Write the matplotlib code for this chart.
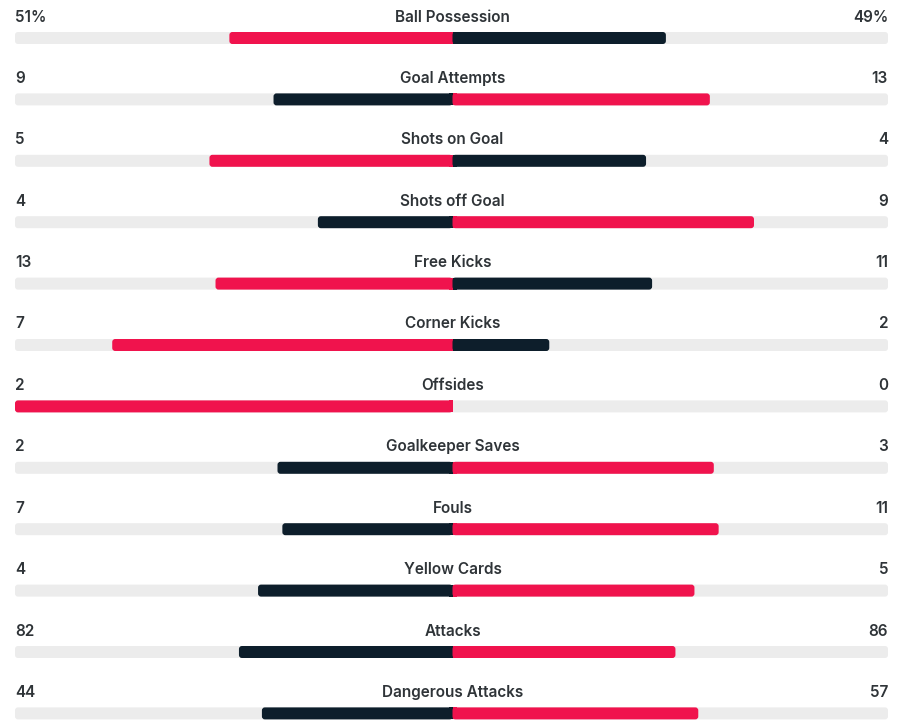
import matplotlib.pyplot as plt
from matplotlib.patches import FancyBboxPatch, Rectangle

# match stats (home left, away right)
labels = ['Ball Possession', 'Goal Attempts', 'Shots on Goal', 'Shots off Goal',
          'Free Kicks', 'Corner Kicks', 'Offsides', 'Goalkeeper Saves', 'Fouls',
          'Yellow Cards', 'Attacks', 'Dangerous Attacks']
home = [51, 9, 5, 4, 13, 7, 2, 2, 7, 4, 82, 44]
away = [49, 13, 4, 9, 11, 2, 0, 3, 11, 5, 86, 57]
suffix = ['%', '', '', '', '', '', '', '', '', '', '', '']

RED = '#f0134d'
DARK = '#0d1e2b'
TRACK = '#ececec'
TEXT = '#2f3438'

plt.rcParams['font.family'] = ['Inter', 'DejaVu Sans']

fig = plt.figure(figsize=(9, 7.27), dpi=100)
ax = fig.add_axes([0, 0, 1, 1])
ax.set_xlim(0, 900)
ax.set_ylim(727, 0)
ax.axis('off')

left, right = 15, 888
mid = 452.5
half = mid - left
bar_h = 12
r = 3


def rounded_bar(x0, x1, y, color, square_side=None):
    w = x1 - x0
    if w <= 0:
        return
    ax.add_patch(FancyBboxPatch((x0, y - bar_h / 2), w, bar_h,
                                boxstyle=f'round,pad=0,rounding_size={min(r, w / 2)}',
                                fc=color, ec='none', zorder=2))
    # square off the end that meets the centre line
    if square_side == 'right':
        ax.add_patch(Rectangle((max(x0, x1 - r - 1), y - bar_h / 2), min(r + 1, w), bar_h,
                               fc=color, ec='none', zorder=2))
    elif square_side == 'left':
        ax.add_patch(Rectangle((x0, y - bar_h / 2), min(r + 1, w), bar_h,
                               fc=color, ec='none', zorder=2))


for i, lab in enumerate(labels):
    yb = 38 + i * 61.4
    yt = yb - 21
    h, a = home[i], away[i]
    tot = h + a
    rounded_bar(left, right, yb, TRACK)
    hc = RED if h > a else DARK
    ac = RED if a > h else DARK
    rounded_bar(mid - h / tot * half, mid, yb, hc, 'right')
    rounded_bar(mid, mid + a / tot * (right - mid), yb, ac, 'left')

    ax.text(left, yt, f'{h}{suffix[i]}', ha='left', va='center', fontsize=11,
            fontweight='semibold', color=TEXT)
    ax.text(mid, yt, lab, ha='center', va='center', fontsize=11,
            fontweight='semibold', color=TEXT)
    ax.text(right, yt, f'{a}{suffix[i]}', ha='right', va='center', fontsize=11,
            fontweight='semibold', color=TEXT)

fig.savefig('out.png', dpi=100, facecolor='white')
